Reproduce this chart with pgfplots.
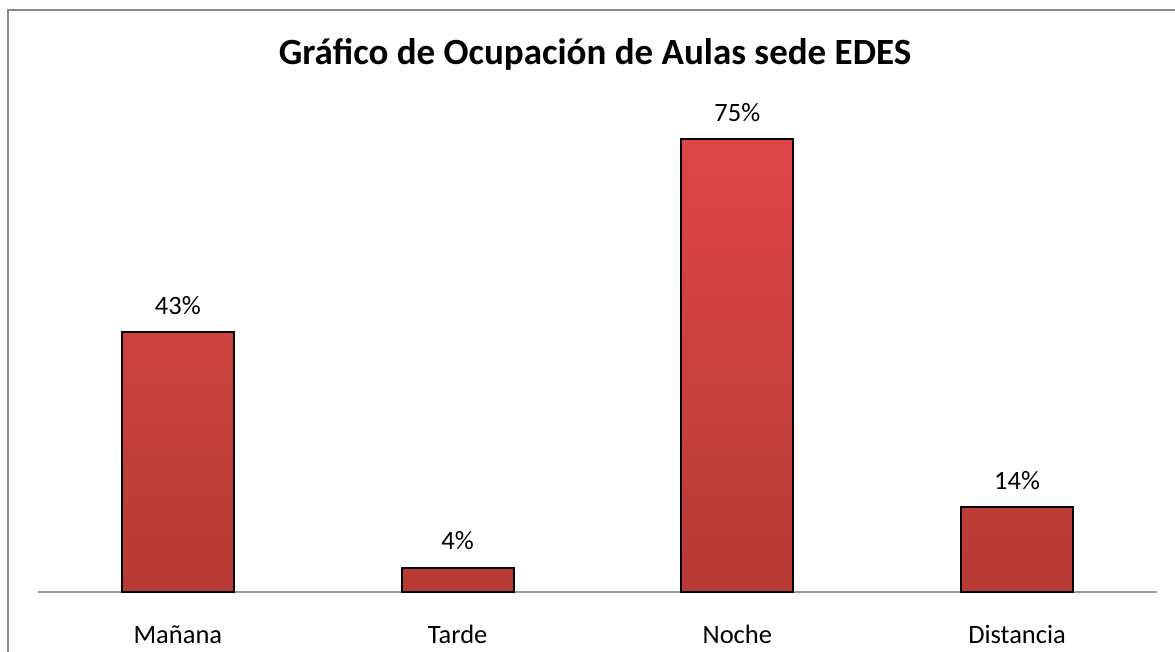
\documentclass[border=0pt]{standalone}
\usepackage{pgfplots}
\pgfplotsset{compat=1.18}
\usepackage{fontspec}
\setmainfont{Carlito}
\definecolor{framegray}{HTML}{878787}
\definecolor{axgray}{HTML}{9A9A9A}
\definecolor{bartop}{HTML}{DE4646}
\definecolor{barbot}{HTML}{B63A35}
\begin{document}
\begin{tikzpicture}[x=1pt,y=1pt]
\useasboundingbox (0,0) rectangle (1175,652);
\draw[color=framegray, line width=2pt] (8,0) -- (8,641.5) -- (1175,641.5);
\node[anchor=base, inner sep=0pt, font=\bfseries\fontsize{37}{43}\selectfont] at (595,587) {Gráfico de Ocupación de Aulas sede EDES};
\begin{axis}[
  at={(38pt,60pt)}, anchor=south west,
  scale only axis, width=1119pt, height=483pt,
  xmin=-0.5, xmax=3.5, ymin=0, ymax=80,
  axis x line=bottom, axis y line=none,
  x axis line style={-, color=axgray, line width=2pt},
  xtick=data, xticklabels={Mañana,Tarde,Noche,Distancia},
  xtick style={draw=none},
  xticklabel style={font=\fontsize{26.5}{30}\selectfont, anchor=base, yshift=-49pt, inner sep=0pt},
  ytick=\empty,
  clip=false,
  /pgf/number format/assume math mode=true,
  nodes near coords={\pgfmathprintnumber{\pgfplotspointmeta}\%},
  every node near coord/.append style={font=\fontsize{26.5}{30}\selectfont, anchor=base, yshift=18pt, inner sep=0pt, text=black},
]
\addplot[ybar, bar width=112pt, draw=black, line width=2pt, top color=bartop, bottom color=barbot]
  coordinates {(0,43) (1,4) (2,75) (3,14)};
\end{axis}
\end{tikzpicture}
\end{document}
